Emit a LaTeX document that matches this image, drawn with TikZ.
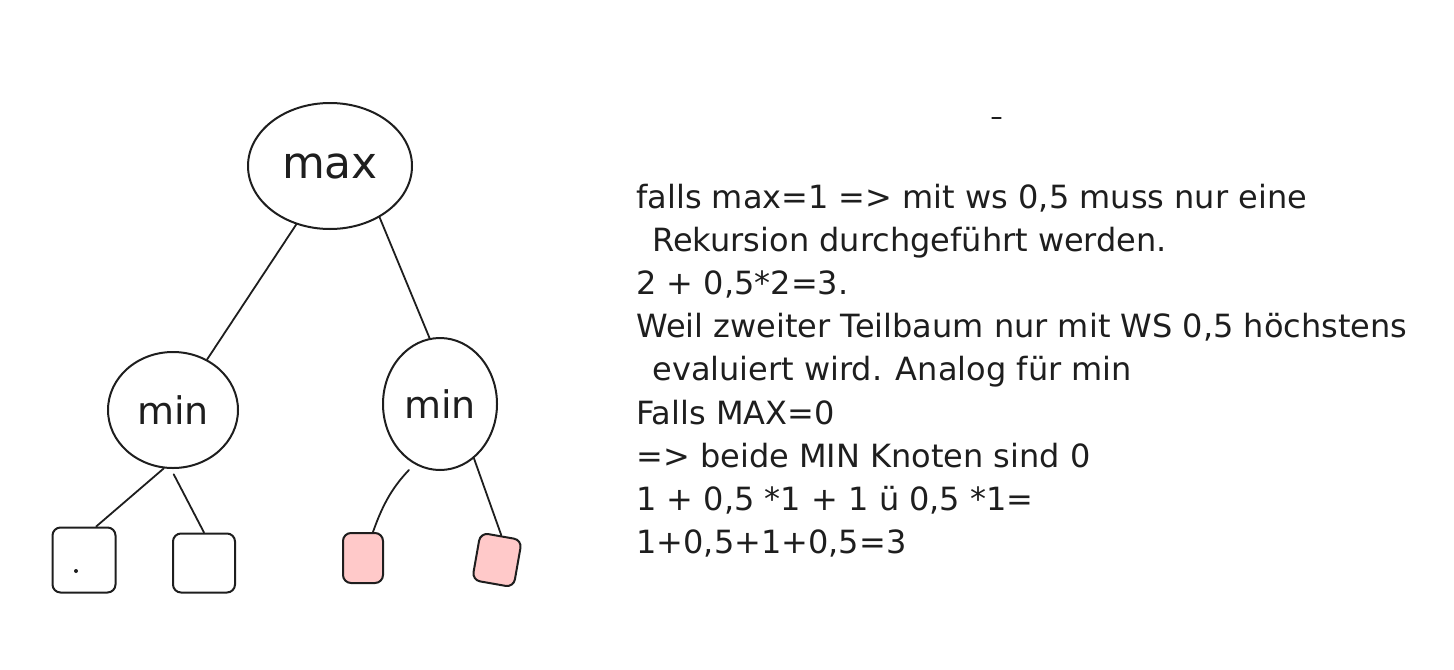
\documentclass[tikz,border=0pt]{standalone}
\usepackage{fontspec}
\setmainfont{DejaVu Sans}
\usetikzlibrary{shapes.geometric}
\definecolor{ink}{HTML}{1E1E1E}
\definecolor{leafred}{HTML}{FFC9C9}

\begin{document}
\begin{tikzpicture}[
        x=0.5pt, y=-0.5pt,
        knot/.style={ellipse, draw=ink, line width=1pt, inner sep=0pt, text=ink, font=\fontsize{19}{22}\selectfont},
        leaf/.style={rectangle, rounded corners=4pt, draw=ink, line width=1pt, inner sep=0pt},
        link/.style={draw=ink, line width=0.9pt, line cap=round},
        note/.style={anchor=base west, inner sep=0pt, text=ink, font=\fontsize{16}{21.5}\selectfont}
    ]
    \useasboundingbox (0,0) rectangle (1454,669);

    % Level 1: root
    \node[knot, minimum width=82pt, minimum height=63pt, font=\fontsize{22}{26}\selectfont] (max) at (330,166) {max};

    % Level 2: min nodes
    \node[knot, minimum width=65pt, minimum height=58pt] (minl) at (173,410) {min};
    \node[knot, minimum width=57pt, minimum height=66pt] (minr) at (440,404) {min};

    % Level 3: leaves
    \node[leaf, minimum width=31.5pt, minimum height=32.5pt] (leaf1) at (84,560) {};
    \node[leaf, minimum width=31pt, minimum height=29.5pt] (leaf2) at (204,563) {};
    \node[leaf, fill=leafred, minimum width=20pt, minimum height=25pt] (leaf3) at (363,558) {};
    \node[leaf, fill=leafred, minimum width=21pt, minimum height=24pt, rotate=-10] (leaf4) at (497,560) {};
    \fill[ink] (76,571) circle (1pt);

    % Connecting lines
    \draw[link] (max.-120) -- (minl.56);
    \draw[link] (max.-46) -- (minr.99);
    \draw[link] (minl.-99) -- (leaf1.70);
    \draw[link, shorten <=3pt] (minl.-92) -- (leaf2.north);
    \draw[link, shorten <=4pt] (minr.-113) to[bend right=12] (leaf3.69);
    \draw[link] (minr.-58) -- (leaf4.north);

    % stray stroke
    \draw[link, line width=0.6pt] (992,118) -- (1001,118);

    % Notes
    \foreach \txt [count=\i] in {
        {falls max=1 => mit ws 0,5 muss nur eine},
        {\hspace*{8pt}Rekursion durchgeführt werden.},
        {2 + 0,5*2=3.},
        {Weil zweiter Teilbaum nur mit WS 0,5 höchstens},
        {\hspace*{8pt}evaluiert wird. Analog für min},
        {Falls MAX=0},
        {=> beide MIN Knoten sind 0},
        {1 + 0,5 *1 + 1 ü 0,5 *1=},
        {1+0,5+1+0,5=3}}
        \node[note] (note\i) at (636,{208+43.2*(\i-1)}) {\txt};

\end{tikzpicture}
\end{document}
